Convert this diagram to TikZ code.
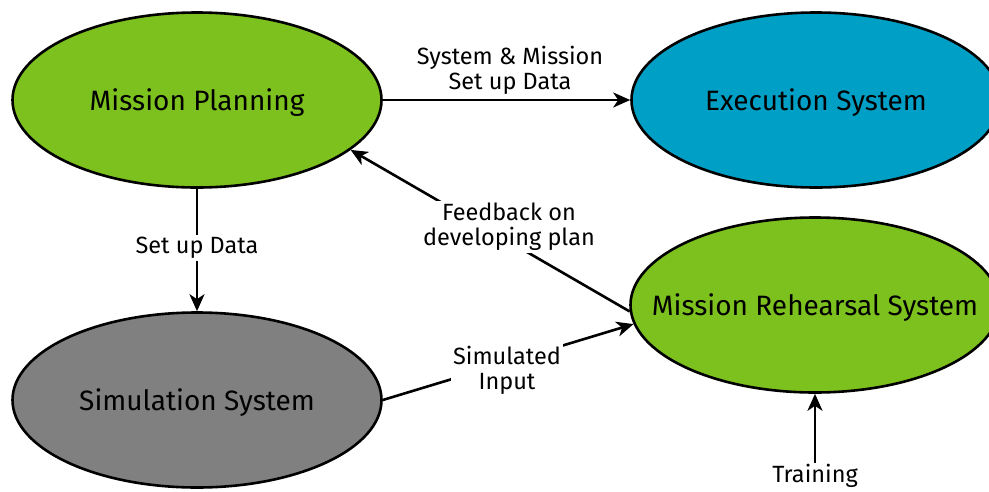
\documentclass[tikz,border=0pt]{standalone}
\usepackage{fontspec}
\setmainfont{Fira Sans}
\usetikzlibrary{shapes.geometric,arrows.meta}
\definecolor{mgreen}{HTML}{7DC11F}
\definecolor{mblue}{HTML}{00A0C6}
\definecolor{mgray}{HTML}{808080}
\begin{document}
\begin{tikzpicture}[x=1pt,y=-1pt,
  sysnode/.style={ellipse,draw=black,line width=2.6pt,minimum width=369pt,minimum height=175pt,inner sep=0pt},
  systext/.style={font=\fontsize{28}{33}\selectfont,inner sep=0pt,yshift=-3pt},
  conn/.style={line width=2.6pt,-{Stealth[length=17pt,width=15pt,inset=5pt]}},
  lbl/.style={font=\fontsize{23.5}{25}\selectfont,align=center,inner sep=2pt}]
\useasboundingbox (0,0) rectangle (989,491);
\node[sysnode,fill=mgreen] (MP) at (197,100) {};
\node[sysnode,fill=mblue] (ES) at (816,100) {};
\node[sysnode,fill=mgreen] (MRS) at (815,305) {};
\node[sysnode,fill=mgray] (SS) at (197,400) {};
\node[systext] (tMP) at (MP.center) {Mission Planning};
\node[systext] (tES) at (ES.center) {Execution System};
\node[systext] (tMRS) at (MRS.center) {Mission Rehearsal System};
\node[systext] (tSS) at (SS.center) {Simulation System};
\node[lbl] (Ltop) at (510,70) {System \& Mission\\Set up Data};
\node[lbl,inner sep=1pt] (Ltr) at (815,476) {Training};
\draw[conn] (MP.east) -- (ES.west);
\draw[conn] (MP.south) -- (SS.north);
\draw[conn] (MRS.182) -- (MP.-18);
\draw[conn] (SS.east) -- (MRS.186);
\draw[conn] (Ltr.north) -- (MRS.south);
\node[lbl,fill=white] (Lsud) at (197,248) {Set up Data};
\node[lbl,fill=white] (Lfb) at (509,227) {Feedback on\\developing plan};
\node[lbl,fill=white] (Lsim) at (507,370) {Simulated\\Input};
\end{tikzpicture}
\end{document}
